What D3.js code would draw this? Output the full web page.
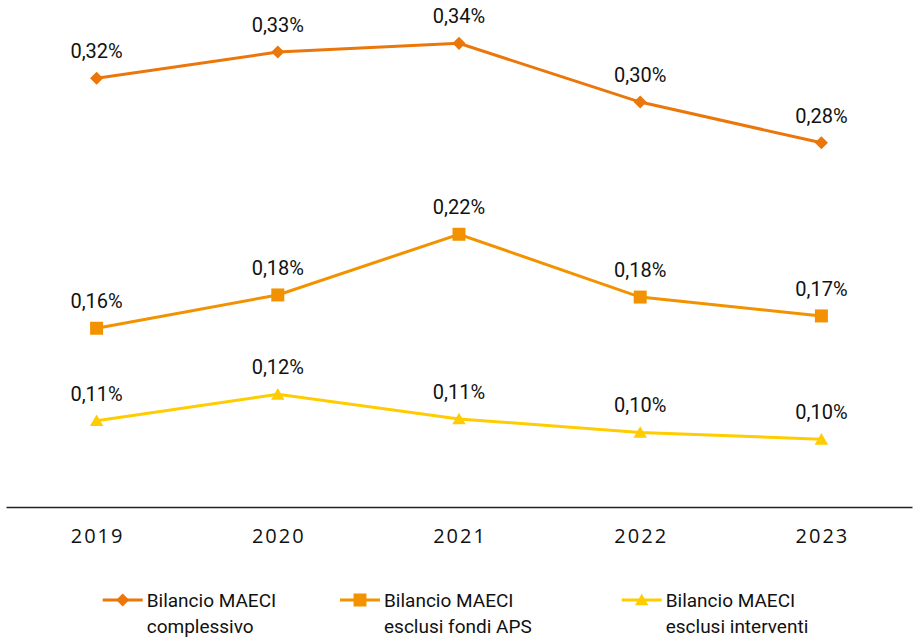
<!DOCTYPE html>
<html><head><meta charset="utf-8">
<script src="https://cdn.jsdelivr.net/npm/d3@7"></script>
<style>body{margin:0;background:#fff}svg{display:block}</style>
</head><body>
<svg id="chart" width="913" height="637"></svg>
<script>
const years = ["2019","2020","2021","2022","2023"];
const complessivo = [0.3164, 0.3324, 0.3377, 0.3019, 0.2771];
const esclusiFondi = [0.1640, 0.1843, 0.2213, 0.1830, 0.1715];
const esclusiInterventi = [0.1076, 0.1237, 0.1087, 0.1005, 0.0963];
const seriesNames = [["Bilancio MAECI","complessivo"],["Bilancio MAECI","esclusi fondi APS"],["Bilancio MAECI","esclusi interventi"]];
const colors = ["#EB760A","#F39200","#FFCC00"];
const shapes = ["diamond","square","triangle"];

const svg = d3.select("#chart");
const x = d3.scaleBand().domain(years).range([6,912]);
const y = d3.scaleLinear().domain([0.055,0.355]).range([507,15]);
const cx = d => x(d) + x.bandwidth()/2;

const fmt = v => d3.format(".2f")(v).replace(".",",") + "%";

function symbolPath(shape){
  if(shape==="diamond") return d3.symbol().type(d3.symbolSquare).size(85)();
  if(shape==="square") return d3.symbol().type(d3.symbolSquare).size(169)();
  return d3.symbol().type(d3.symbolTriangle).size(78)();
}
function symbolTransform(shape, px, py){
  if(shape==="diamond") return `translate(${px},${py}) rotate(45)`;
  if(shape==="triangle") return `translate(${px},${py+1.5})`;
  return `translate(${px},${py})`;
}

// baseline axis
const xAxis = d3.axisBottom(x).tickSize(0).tickPadding(0);
const gx = svg.append("g").attr("transform","translate(0,507)").call(xAxis);
gx.select(".domain").attr("stroke","#222").attr("stroke-width",1.3);
gx.selectAll("text").attr("font-family","'Open Sans', sans-serif").attr("font-size",20)
  .attr("letter-spacing","2px").attr("fill","#111").attr("dy",null).attr("y",36)
  .attr("dx","1px");

const allSeries = [complessivo, esclusiFondi, esclusiInterventi];
const line = d3.line().x((d,i)=>cx(years[i])).y(d=>y(d));

allSeries.forEach((vals, si) => {
  const g = svg.append("g");
  g.append("path").datum(vals).attr("d", line).attr("fill","none")
    .attr("stroke", colors[si]).attr("stroke-width",3);
  g.selectAll("path.m").data(vals).join("path").attr("class","m")
    .attr("d", symbolPath(shapes[si]))
    .attr("transform",(d,i)=>symbolTransform(shapes[si], cx(years[i]), y(d)))
    .attr("fill", colors[si]);
  g.selectAll("text").data(vals).join("text")
    .attr("x",(d,i)=>cx(years[i])).attr("y",d=>y(d)-20)
    .attr("text-anchor","middle").attr("font-family","Roboto, sans-serif")
    .attr("font-size",20).attr("fill","#111").text(d=>fmt(d));
});

// legend
const legendX = [102.7, 340, 621.7];
seriesNames.forEach((nm, si) => {
  const g = svg.append("g").attr("transform",`translate(${legendX[si]},600)`);
  g.append("line").attr("x1",0).attr("x2",40).attr("y1",0).attr("y2",0)
    .attr("stroke",colors[si]).attr("stroke-width",3);
  g.append("path").attr("d",symbolPath(shapes[si]))
    .attr("transform",symbolTransform(shapes[si],20,0).replace("translate(20,0)","translate(20,0)"))
    .attr("fill",colors[si]);
  const t = g.append("text").attr("x",44).attr("y",6.7)
    .attr("font-family","Roboto, sans-serif").attr("font-size",19).attr("fill","#111");
  t.append("tspan").attr("x",44).text(nm[0]);
  t.append("tspan").attr("x",44).attr("dy",26.5).text(nm[1]);
});
</script>
</body></html>
